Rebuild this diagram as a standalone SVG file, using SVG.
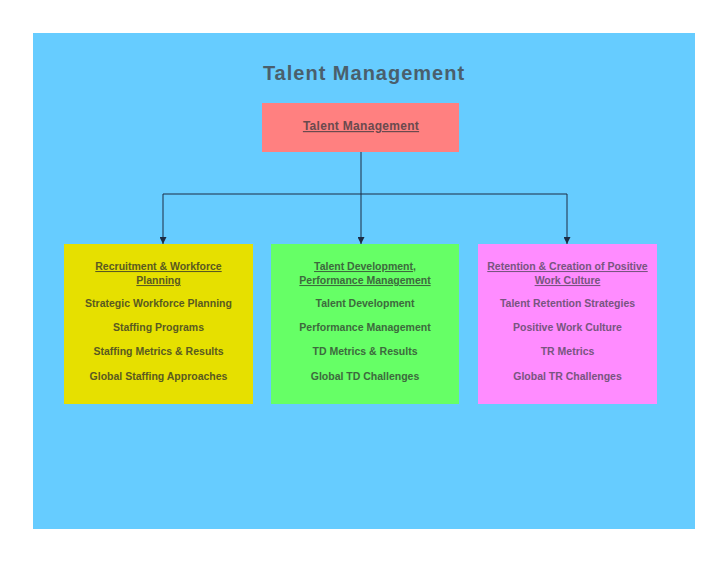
<svg xmlns="http://www.w3.org/2000/svg" width="728" height="563" viewBox="0 0 728 563">
<defs>
<style>
text{font-family:"Liberation Sans","DejaVu Sans",Arial,sans-serif;font-weight:bold;text-anchor:middle}
.t{font-size:10.5px}
.h{text-decoration:underline}
.y text{fill:#5a5a20}
.g text{fill:#3d6a3d}
.p text{fill:#785580}
.c{stroke:#1c2c44;stroke-width:1;fill:none}
</style>
<marker id="a2" markerWidth="7" markerHeight="7" refX="3.5" refY="7" orient="0" markerUnits="userSpaceOnUse" viewBox="0 0 7 7">
<path d="M0,0 L7,0 L3.5,7 Z" fill="#1c2c44"/>
</marker>
</defs>
<rect width="728" height="563" fill="#ffffff"/>
<rect x="33" y="33" width="662" height="496" fill="#66ccff"/>
<text x="364" y="80" font-size="20" fill="#4a5f6c" letter-spacing="1">Talent Management</text>
<g id="connectors">
<path class="c" d="M361,152 V194"/>
<path class="c" d="M163,194 H567"/>
<path class="c" d="M163,194 V244" marker-end="url(#a2)"/>
<path class="c" d="M361,194 V244" marker-end="url(#a2)"/>
<path class="c" d="M567,194 V244" marker-end="url(#a2)"/>
</g>
<g id="root">
<rect x="262" y="103" width="197" height="49" fill="#ff8080"/>
<text class="h" x="361" y="130" font-size="12" letter-spacing="0.3" fill="#6a4a4e">Talent Management</text>
</g>
<g id="recruitment" class="y">
<rect x="64" y="244" width="189" height="160" fill="#e6e000"/>
<text class="t h" x="158.5" y="270">Recruitment &amp; Workforce</text>
<text class="t h" x="158.5" y="284">Planning</text>
<text class="t" x="158.5" y="307">Strategic Workforce Planning</text>
<text class="t" x="158.5" y="331">Staffing Programs</text>
<text class="t" x="158.5" y="355">Staffing Metrics &amp; Results</text>
<text class="t" x="158.5" y="380">Global Staffing Approaches</text>
</g>
<g id="development" class="g">
<rect x="271" y="244" width="188" height="160" fill="#66ff66"/>
<text class="t h" x="365" y="270">Talent Development,</text>
<text class="t h" x="365" y="284">Performance Management</text>
<text class="t" x="365" y="307">Talent Development</text>
<text class="t" x="365" y="331">Performance Management</text>
<text class="t" x="365" y="355">TD Metrics &amp; Results</text>
<text class="t" x="365" y="380">Global TD Challenges</text>
</g>
<g id="retention" class="p">
<rect x="478" y="244" width="179" height="160" fill="#ff8cff"/>
<text class="t h" x="567.5" y="270">Retention &amp; Creation of Positive</text>
<text class="t h" x="567.5" y="284">Work Culture</text>
<text class="t" x="567.5" y="307">Talent Retention Strategies</text>
<text class="t" x="567.5" y="331">Positive Work Culture</text>
<text class="t" x="567.5" y="355">TR Metrics</text>
<text class="t" x="567.5" y="380">Global TR Challenges</text>
</g>
</svg>
